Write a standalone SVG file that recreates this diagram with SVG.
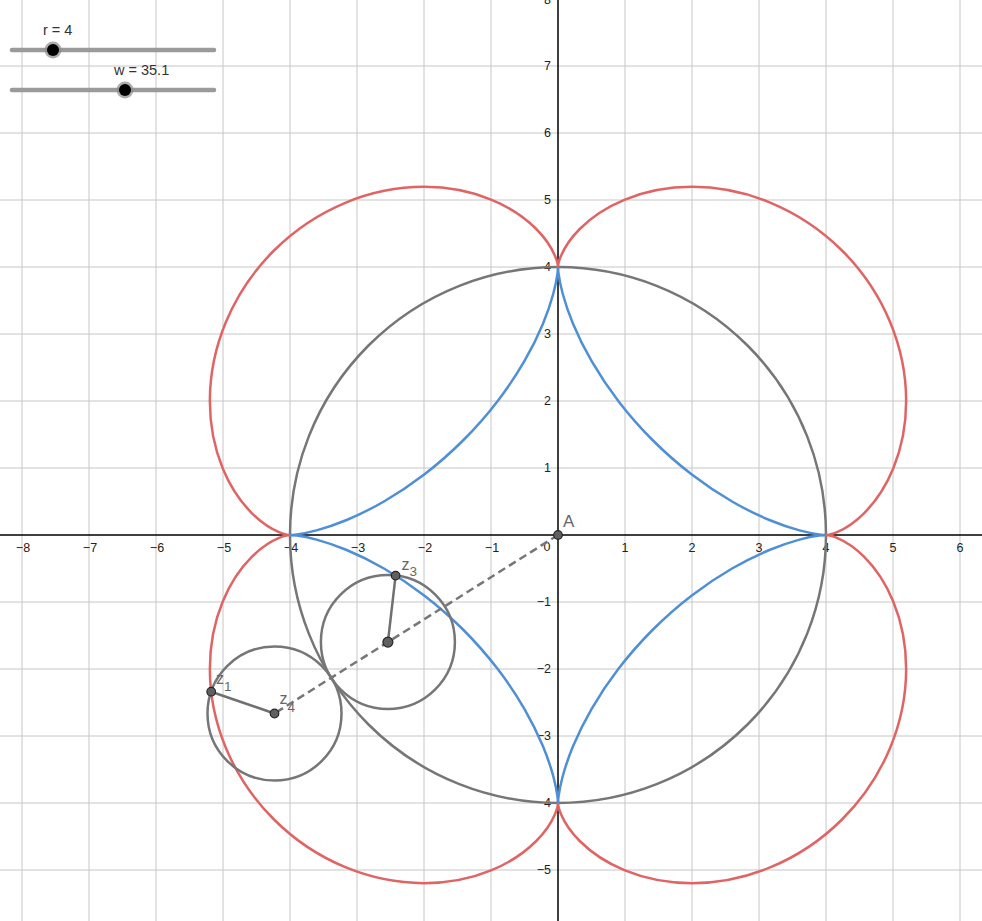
<svg xmlns="http://www.w3.org/2000/svg" xmlns:xlink="http://www.w3.org/1999/xlink" width="982" height="921" viewBox="0 0 982 921">
<style>
.grid{stroke:#c6c6c6;stroke-width:1;fill:none}
.axis{stroke:#000;stroke-width:1.5;fill:none}
.lbl{font-family:"Liberation Sans",Arial,sans-serif;font-size:12.5px;fill:#222}
.xl{text-anchor:middle}
.yl{text-anchor:end}
.red{stroke:#e06464;stroke-width:2.5;fill:none;stroke-linejoin:round}
.blue{stroke:#4f8fd6;stroke-width:2.5;fill:none;stroke-linejoin:round}
.gc{stroke:#767676;stroke-width:2.5;fill:none}
.seg{stroke:#707070;stroke-width:2.5;fill:none}
.dash{stroke:#777;stroke-width:2.5;fill:none;stroke-dasharray:8 4.5}
.pt{fill:#606060;stroke:#262626;stroke-width:1.2}
.plbl{font-family:"Liberation Sans",Arial,sans-serif;font-size:16px;fill:#666}
.big{font-size:17px}
.sub{font-size:13.5px}
.track{stroke:#9a9a9a;stroke-width:4.5;stroke-linecap:round}
.knob{fill:#000}
.halo{fill:#8a8a8a;fill-opacity:0.7}
.slbl{font-family:"Liberation Sans",Arial,sans-serif;font-size:14.5px;fill:#333}
</style>
<defs>
<path id="epiQ" d="M268,0 C268,0 271.989,-0.044 278.979,-2.939 C285.969,-5.834 295.908,-11.651 306.244,-21.987 C316.58,-32.323 327.228,-47.201 335.139,-66.299 C343.05,-85.397 348.143,-108.682 348.143,-134 C348.143,-159.318 343.006,-186.592 332.2,-212.681 C321.394,-238.77 304.929,-263.585 284.257,-284.257 C263.585,-304.929 238.77,-321.394 212.681,-332.2 C186.592,-343.006 159.318,-348.143 134,-348.143 C108.682,-348.143 85.397,-343.05 66.299,-335.139 C47.201,-327.228 32.323,-316.58 21.987,-306.244 C11.651,-295.908 5.834,-285.969 2.939,-278.979 C0.044,-271.989 0,-268 0,-268"/>
<path id="astQ" d="M268,0 C268,0 265.681,-0.003 261.18,-0.596 C256.679,-1.189 250.001,-2.377 241.53,-4.647 C233.059,-6.917 222.799,-10.274 211.34,-15.02 C199.881,-19.766 187.225,-25.905 174.07,-33.5 C160.915,-41.095 147.262,-50.147 133.82,-60.461 C120.378,-70.775 107.153,-82.347 94.75,-94.75 C82.347,-107.153 70.775,-120.378 60.461,-133.82 C50.147,-147.262 41.095,-160.915 33.5,-174.07 C25.905,-187.225 19.766,-199.881 15.02,-211.34 C10.274,-222.799 6.917,-233.059 4.647,-241.53 C2.377,-250.001 1.189,-256.679 0.596,-261.18 C0.003,-265.681 0,-268 0,-268"/>
</defs>
<rect width="982" height="921" fill="#fff"/>
<g id="grid">
<path class="grid" d="M22,0V921M89,0V921M156,0V921M223,0V921M290,0V921M357,0V921M424,0V921M491,0V921M625,0V921M692,0V921M759,0V921M826,0V921M893,0V921M960,0V921M0,870H982M0,803H982M0,736H982M0,669H982M0,602H982M0,468H982M0,401H982M0,334H982M0,267H982M0,200H982M0,133H982M0,66H982M0,-1H982"/>
</g>
<g id="axes">
<path class="axis" d="M0,535H982M558,0V921"/>
<g class="lbl xl">
<text x="23" y="552">−8</text><text x="90" y="552">−7</text><text x="157" y="552">−6</text><text x="224" y="552">−5</text><text x="291" y="552">−4</text><text x="358" y="552">−3</text><text x="425" y="552">−2</text><text x="492" y="552">−1</text>
<text x="625" y="552">1</text><text x="692" y="552">2</text><text x="759" y="552">3</text><text x="826" y="552">4</text><text x="893" y="552">5</text><text x="960" y="552">6</text>
</g>
<text class="lbl xl" x="547" y="551">0</text>
<g class="lbl yl">
<text x="551" y="3.5">8</text><text x="551" y="70">7</text><text x="551" y="137">6</text><text x="551" y="204">5</text><text x="551" y="271">4</text><text x="551" y="338">3</text><text x="551" y="405">2</text><text x="551" y="472">1</text>
<text x="551" y="606">−1</text><text x="551" y="673">−2</text><text x="551" y="740">−3</text><text x="551" y="807">−4</text><text x="551" y="874">−5</text>
</g>
</g>
<g id="bigCircle"><circle class="gc" cx="558" cy="535" r="268"/></g>
<g id="epicycloid" transform="translate(558 535)">
<use xlink:href="#epiQ" class="red"/>
<use xlink:href="#epiQ" class="red" transform="scale(-1 1)"/>
<use xlink:href="#epiQ" class="red" transform="scale(1 -1)"/>
<use xlink:href="#epiQ" class="red" transform="scale(-1 -1)"/>
</g>
<g id="astroid" transform="translate(558 535)">
<use xlink:href="#astQ" class="blue"/>
<use xlink:href="#astQ" class="blue" transform="scale(-1 1)"/>
<use xlink:href="#astQ" class="blue" transform="scale(1 -1)"/>
<use xlink:href="#astQ" class="blue" transform="scale(-1 -1)"/>
</g>
<g id="outerRoller"><circle class="gc" cx="274.5" cy="713.5" r="67"/></g>
<g id="innerRoller"><circle class="gc" cx="387.9" cy="642.1" r="67"/></g>
<g id="connectors">
<line class="dash" x1="558" y1="535" x2="274.5" y2="713.5"/>
<line class="seg" x1="274.5" y1="713.5" x2="211.2" y2="691.7"/>
<line class="seg" x1="387.9" y1="642.1" x2="395.6" y2="575.6"/>
</g>
<g id="A"><circle class="pt" cx="558" cy="535" r="4.3"/><text class="plbl big" x="563" y="527">A</text></g>
<g id="z1"><circle class="pt" cx="211.2" cy="691.7" r="4.3"/><text class="plbl" x="216" y="684">z<tspan class="sub" dy="7">1</tspan></text></g>
<g id="z4"><circle class="pt" cx="274.5" cy="713.5" r="4.3"/><text class="plbl" x="279.5" y="704">z<tspan class="sub" dy="8">4</tspan></text></g>
<g id="center3"><circle class="pt" cx="387.9" cy="642.1" r="5"/></g>
<g id="z3"><circle class="pt" cx="395.6" cy="575.6" r="4.3"/><text class="plbl" x="401.5" y="570">z<tspan class="sub" dy="5.5">3</tspan></text></g>
<g id="sliderR">
<line class="track" x1="12" y1="50" x2="214" y2="50"/>
<circle class="halo" cx="53" cy="50" r="8.5"/><circle class="knob" cx="53" cy="50" r="6"/>
<text class="slbl" x="43" y="35">r = 4</text>
</g>
<g id="sliderW">
<line class="track" x1="12" y1="90" x2="214" y2="90"/>
<circle class="halo" cx="125" cy="90" r="8.5"/><circle class="knob" cx="125" cy="90" r="6"/>
<text class="slbl" x="114" y="75">w = 35.1</text>
</g>
</svg>
